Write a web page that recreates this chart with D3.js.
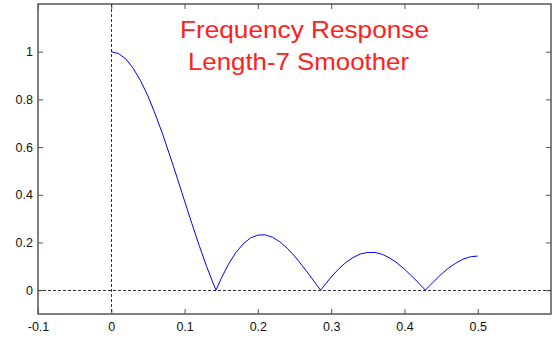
<!DOCTYPE html>
<html>
<head>
<meta charset="utf-8">
<script src="https://cdn.jsdelivr.net/npm/d3@7"></script>
<style>
  body { margin: 0; background: #fff; }
  .tick text { font-family: Arial, "Liberation Sans", sans-serif; font-size: 12.5px; fill: #111; }
</style>
</head>
<body>
<script>
// data
var freq = [0,0.01,0.02,0.03,0.04,0.05,0.06,0.07,0.08,0.09,0.10,0.11,0.12,0.13,0.14,0.1429,
            0.15,0.16,0.17,0.18,0.19,0.20,0.21,0.22,0.23,0.24,0.25,0.26,0.27,0.28,0.2857,
            0.29,0.30,0.31,0.32,0.33,0.34,0.35,0.36,0.37,0.38,0.39,0.40,0.41,0.42,0.4286,
            0.43,0.44,0.45,0.46,0.47,0.48,0.49,0.50];
var mag = [1,0.992,0.969,0.930,0.878,0.814,0.738,0.655,0.564,0.470,0.374,0.279,0.187,0.100,0.021,0,
           0.049,0.109,0.158,0.194,0.219,0.231,0.232,0.222,0.203,0.176,0.143,0.105,0.065,0.023,0,
           0.017,0.055,0.088,0.116,0.137,0.152,0.158,0.158,0.150,0.135,0.114,0.088,0.059,0.028,0,
           0.005,0.036,0.066,0.092,0.113,0.130,0.140,0.143];
var xTicks = [-0.1,0,0.1,0.2,0.3,0.4,0.5];
var xTickLabels = ["-0.1","0","0.1","0.2","0.3","0.4","0.5"];
var yTicks = [0,0.2,0.4,0.6,0.8,1];
var yTickLabels = ["0","0.2","0.4","0.6","0.8","1"];
var titleLines = ["Frequency Response","Length-7 Smoother"];

var W = 559, H = 341;
// plot box edges (window.top is reserved, so use other names)
var boxL = 38, boxR = 551, boxT = 4, boxB = 314;

var svg = d3.select("body").append("svg")
            .attr("width", W)
            .attr("height", H);

var x = d3.scaleLinear().domain([-0.1, 0.6]).range([boxL, boxR]);
var y = d3.scaleLinear().domain([-0.1, 1.2]).range([boxB, boxT]);

var axisColor = "#555";

// bottom axis with labels
svg.append("g")
   .attr("transform", "translate(0," + boxB + ")")
   .call(d3.axisBottom(x).tickValues(xTicks).tickSize(-5).tickPadding(8)
         .tickFormat(function(d,i){ return xTickLabels[i]; }));
// top axis, ticks only
svg.append("g")
   .attr("transform", "translate(0," + boxT + ")")
   .call(d3.axisTop(x).tickValues(xTicks).tickSize(-5).tickFormat(""));
// left axis with labels
svg.append("g")
   .attr("transform", "translate(" + boxL + ",0)")
   .call(d3.axisLeft(y).tickValues(yTicks).tickSize(-5).tickPadding(5)
         .tickFormat(function(d,i){ return yTickLabels[i]; }));
// right axis, ticks only
svg.append("g")
   .attr("transform", "translate(" + boxR + ",0)")
   .call(d3.axisRight(y).tickValues(yTicks).tickSize(-5).tickFormat(""));

svg.selectAll(".domain").remove();
svg.selectAll(".tick line").attr("stroke", axisColor);

// box
svg.append("rect")
   .attr("x", boxL).attr("y", boxT)
   .attr("width", boxR - boxL).attr("height", boxB - boxT)
   .attr("fill", "none")
   .attr("stroke", axisColor)
   .attr("stroke-width", 1.5);

// dotted reference lines at x=0 and y=0
svg.append("line")
   .attr("x1", Math.round(x(0)) + 0.5).attr("x2", Math.round(x(0)) + 0.5)
   .attr("y1", boxT).attr("y2", boxB)
   .attr("stroke", "#333").attr("stroke-dasharray", "3,2");
svg.append("line")
   .attr("x1", boxL).attr("x2", boxR)
   .attr("y1", Math.round(y(0)) + 0.5).attr("y2", Math.round(y(0)) + 0.5)
   .attr("stroke", "#333").attr("stroke-dasharray", "3,2");

// response curve
var line = d3.line()
             .x(function(d,i){ return x(freq[i]); })
             .y(function(d,i){ return y(d); });

svg.append("path")
   .attr("fill", "none")
   .attr("stroke", "#0000ff")
   .attr("stroke-width", 1)
   .attr("d", line(mag));

// title (the original font runs wider than Arial, so stretch to its width)
svg.selectAll("text.title")
   .data(titleLines)
   .enter().append("text")
   .attr("class", "title")
   .attr("x", function(d,i){ return i == 0 ? 180 : 188; })
   .attr("y", function(d,i){ return 38 + i*32; })
   .attr("textLength", function(d,i){ return i == 0 ? 249 : 221; })
   .attr("lengthAdjust", "spacingAndGlyphs")
   .attr("font-family", "Arial, 'Liberation Sans', sans-serif")
   .attr("font-size", 24)
   .attr("fill", "#ff2020")
   .text(function(d){ return d; });
</script>
</body>
</html>
